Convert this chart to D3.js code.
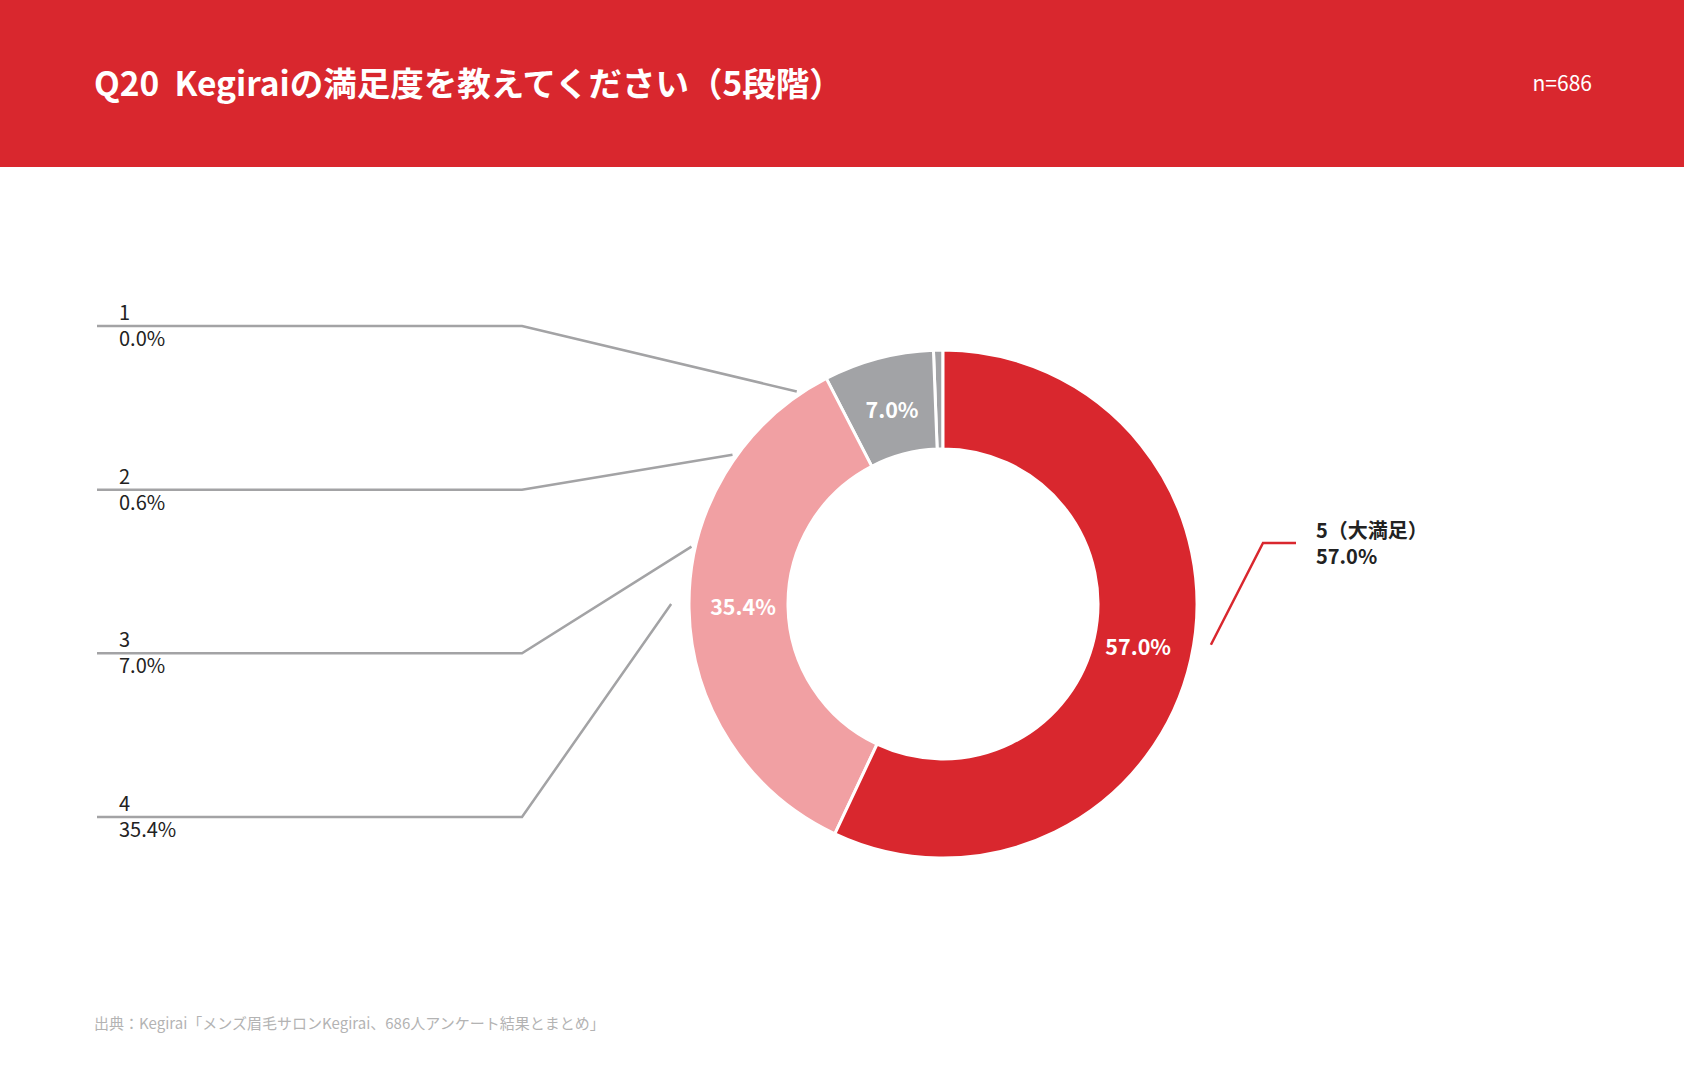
<!DOCTYPE html>
<html lang="ja">
<head>
<meta charset="utf-8">
<script src="https://cdn.jsdelivr.net/npm/d3@7"></script>
<style>
  body { margin: 0; background: #fff; }
  text { font-family: "Noto Sans CJK JP", "Noto Sans", sans-serif; }
</style>
</head>
<body>
<svg></svg>
<script>
// data
const categories = ["1", "2", "3", "4", "5（大満足）"];
const shares = [0.0, 0.6, 7.0, 35.4, 57.0];
const sliceColors = ["#a2a3a6", "#a2a3a6", "#a2a3a6", "#f1a0a3", "#d9272e"];
const title = "Q20  Kegiraiの満足度を教えてください（5段階）";
const sampleNote = "n=686";
const sourceNote = "出典：Kegirai「メンズ眉毛サロンKegirai、686人アンケート結果とまとめ」";

const svgWidth = 1684;
const svgHeight = 1089;
const cx = 943;
const cy = 604;
const outerR = 254;
const innerR = 155;

const svg = d3
  .select("svg")
  .attr("width", svgWidth)
  .attr("height", svgHeight);

// header band
svg.append("rect")
  .attr("width", svgWidth)
  .attr("height", 167)
  .attr("fill", "#d9272e");

svg.append("text")
  .attr("x", 94)
  .attr("y", 96)
  .attr("fill", "#fff")
  .attr("font-size", 33.5)
  .attr("font-weight", 700)
  .style("white-space", "pre")
  .text(title);

svg.append("text")
  .attr("x", 1592)
  .attr("y", 91)
  .attr("text-anchor", "end")
  .attr("fill", "#fff")
  .attr("font-size", 21)
  .text(sampleNote);

const rows = categories.map((c, i) => ({ cat: c, value: shares[i], color: sliceColors[i], i: i }));

// 5 first from 12 o'clock, clockwise
const pie = d3.pie()
  .value(d => d.value)
  .sort((a, b) => b.i - a.i);

const arcs = pie(rows);

const arc = d3.arc().innerRadius(innerR).outerRadius(outerR);
const labelArc = d3.arc().innerRadius(200).outerRadius(200);

const g = svg.append("g").attr("transform", "translate(" + cx + "," + cy + ")");

g.selectAll("path")
  .data(arcs)
  .enter()
  .append("path")
  .attr("d", arc)
  .attr("fill", d => d.data.color)
  .attr("stroke", "#fff")
  .attr("stroke-width", 3);

g.selectAll("text.pct")
  .data(arcs.filter(d => d.data.value >= 1))
  .enter()
  .append("text")
  .attr("class", "pct")
  .attr("transform", d => "translate(" + labelArc.centroid(d) + ")")
  .attr("text-anchor", "middle")
  .attr("dy", "0.35em")
  .attr("fill", "#fff")
  .attr("font-size", 21.5)
  .attr("font-weight", 700)
  .text(d => d.data.value.toFixed(1) + "%");

// leader: from elbow, heading at angle deg, stop at circle of radius rho;
// steep leaders stop at the donut's horizontal centre line instead
function leaderEnd(ex, ey, deg, rho) {
  const a = deg * Math.PI / 180;
  const dx = Math.cos(a), dy = Math.sin(a);
  const fx = ex - cx, fy = ey - cy;
  const b = fx * dx + fy * dy;
  const c = fx * fx + fy * fy - rho * rho;
  let t = -b - Math.sqrt(Math.max(0, b * b - c));
  if (ey > cy && deg < -45) t = (ey - cy) / -dy;
  return [ex + t * dx, ey + t * dy];
}

const leftRows = rows.filter(d => d.i < 4);
const rowY = d3.scalePoint()
  .domain(leftRows.map(d => d.cat))
  .range([326, 817]);
const leaderAngle = d3.scaleLinear()
  .domain([0, 3])
  .range([13.4, -55]);

const lineStart = 97;
const elbowX = 522;

const left = svg.append("g");

leftRows.forEach((d, k) => {
  const y = rowY(d.cat);
  const end = leaderEnd(elbowX, y, leaderAngle(k), outerR + 4);
  left.append("path")
    .attr("d", d3.line()([[lineStart, y], [elbowX, y], end]))
    .attr("fill", "none")
    .attr("stroke", "#a3a3a5")
    .attr("stroke-width", 2.5);
  left.append("text")
    .attr("x", lineStart + 22)
    .attr("y", y - 6)
    .attr("fill", "#222")
    .attr("font-size", 20)
    .text(d.cat);
  left.append("text")
    .attr("x", lineStart + 22)
    .attr("y", y + 20)
    .attr("fill", "#222")
    .attr("font-size", 20)
    .text(d.value.toFixed(1) + "%");
});

// right label for the top answer
const best = rows[4];
const rY = 543;
const rElbow = cx + 320;
const rEnd = leaderEnd(rElbow, rY, 117.1, outerR + 17);
svg.append("path")
  .attr("d", d3.line()([rEnd, [rElbow, rY], [rElbow + 33, rY]]))
  .attr("fill", "none")
  .attr("stroke", best.color)
  .attr("stroke-width", 2.5);
svg.append("text")
  .attr("x", rElbow + 53)
  .attr("y", rY - 5)
  .attr("fill", "#222")
  .attr("font-size", 20)
  .attr("font-weight", 700)
  .text(best.cat);
svg.append("text")
  .attr("x", rElbow + 53)
  .attr("y", rY + 21)
  .attr("fill", "#222")
  .attr("font-size", 20)
  .attr("font-weight", 700)
  .text(best.value.toFixed(1) + "%");

svg.append("text")
  .attr("x", 94)
  .attr("y", 1029)
  .attr("fill", "#b3b3b3")
  .attr("font-size", 15)
  .text(sourceNote);
</script>
</body>
</html>
